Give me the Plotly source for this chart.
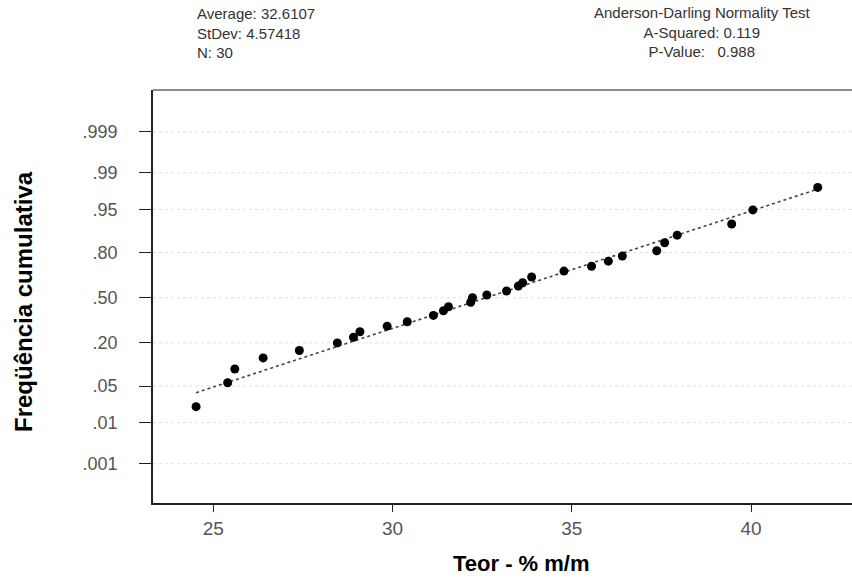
import plotly.graph_objects as go
from statistics import NormalDist

# ---- data ----
teor = [24.52, 25.40, 25.60, 26.39, 27.40, 28.46, 28.91, 29.09, 29.85, 30.41,
        31.14, 31.42, 31.56, 32.18, 32.23, 32.63, 33.18, 33.51, 33.63, 33.88,
        34.78, 35.55, 36.02, 36.41, 37.37, 37.59, 37.94, 39.46, 40.05, 41.86]
freq_cum = [0.0212, 0.0567, 0.0921, 0.131, 0.163, 0.200, 0.231, 0.263, 0.298, 0.327,
            0.371, 0.404, 0.433, 0.466, 0.500, 0.520, 0.550, 0.586, 0.610, 0.650,
            0.690, 0.721, 0.752, 0.781, 0.809, 0.847, 0.878, 0.915, 0.949, 0.980]
average = 32.6107
stdev = 4.57418
n_obs = 30
a_squared = 0.119
p_value = 0.988
prob_ticks = [0.001, 0.01, 0.05, 0.20, 0.50, 0.80, 0.95, 0.99, 0.999]
prob_labels = [".001", ".01", ".05", ".20", ".50", ".80", ".95", ".99", ".999"]
x_ticks = [25, 30, 35, 40]

nd = NormalDist()
z_pts = [nd.inv_cdf(p) for p in freq_cum]
z_ticks = [nd.inv_cdf(p) for p in prob_ticks]
line_x = [min(teor), max(teor)]
line_z = [(v - average) / stdev for v in line_x]

fig = go.Figure()
for zt in z_ticks:
    fig.add_shape(type="line", xref="paper", x0=0, x1=1, yref="y", y0=zt, y1=zt,
                  line=dict(color="#e2e2e2", width=1, dash="dot"), layer="below")
# top frame line (lighter, as in the scan)
fig.add_shape(type="line", xref="paper", yref="paper", x0=0, x1=1, y0=1, y1=1,
              line=dict(color="#666666", width=1.5))

fig.add_trace(go.Scatter(x=line_x, y=line_z, mode="lines",
                         line=dict(color="#444444", width=1.6, dash="dot"),
                         hoverinfo="skip", showlegend=False))
fig.add_trace(go.Scatter(x=teor, y=z_pts, mode="markers",
                         marker=dict(color="black", size=9),
                         showlegend=False))

L, R, T, B = 153, 0, 90, 83
W, H = 852, 586
pw, ph = W - L - R, H - T - B

def px(xp):
    return (xp - L) / pw

def py(yp):
    return (H - B - yp) / ph

font = "Liberation Sans, Arial, sans-serif"
txt = dict(family=font, size=15, color="#333333")
left_block = "<br>".join([f"Average: {average}", f"StDev: {stdev}", f"N: {n_obs}"])
right_block = "<br>".join(["Anderson-Darling Normality Test",
                           f"A-Squared: {a_squared}",
                           f"P-Value:   {p_value}"])
ann = [
    dict(text=left_block, xref="paper", yref="paper", x=px(195), y=py(33),
         xanchor="left", yanchor="middle", align="left", showarrow=False, font=txt),
    dict(text=right_block, xref="paper", yref="paper", x=px(702), y=py(32),
         xanchor="center", yanchor="middle", align="center", showarrow=False, font=txt),
    dict(text="<b>Teor - % m/m</b>", xref="paper", yref="paper", x=px(521), y=py(563),
         xanchor="center", yanchor="middle", showarrow=False,
         font=dict(family=font, size=22, color="black")),
    dict(text="<b>Freqüência cumulativa</b>", xref="paper", yref="paper", x=px(23), y=py(302),
         xanchor="center", yanchor="middle", showarrow=False, textangle=-90,
         font=dict(family=font, size=24, color="black")),
]

fig.update_layout(
    width=W, height=H,
    margin=dict(l=L, r=R, t=T, b=B, pad=0),
    paper_bgcolor="white", plot_bgcolor="white",
    annotations=ann,
    xaxis=dict(range=[23.318, 42.816], tickvals=x_ticks, ticktext=[str(v) for v in x_ticks],
               showgrid=False, zeroline=False, showline=True, linecolor="#222222", linewidth=1.5,
               ticks="outside", ticklen=7, tickcolor="#222222",
               tickfont=dict(family=font, size=19, color="#555555")),
    yaxis=dict(range=[-3.823, 3.868], tickvals=z_ticks, ticktext=prob_labels,
               showgrid=False, zeroline=False, showline=True, linecolor="#222222", linewidth=1.5,
               ticks="outside", ticklen=12, tickcolor="#222222", ticklabelstandoff=18,
               tickfont=dict(family=font, size=18, color="#555555")),
)

fig.write_html("out.html", config={"displayModeBar": False},
               post_script="document.body.style.margin='0';document.body.style.overflow='hidden';")
